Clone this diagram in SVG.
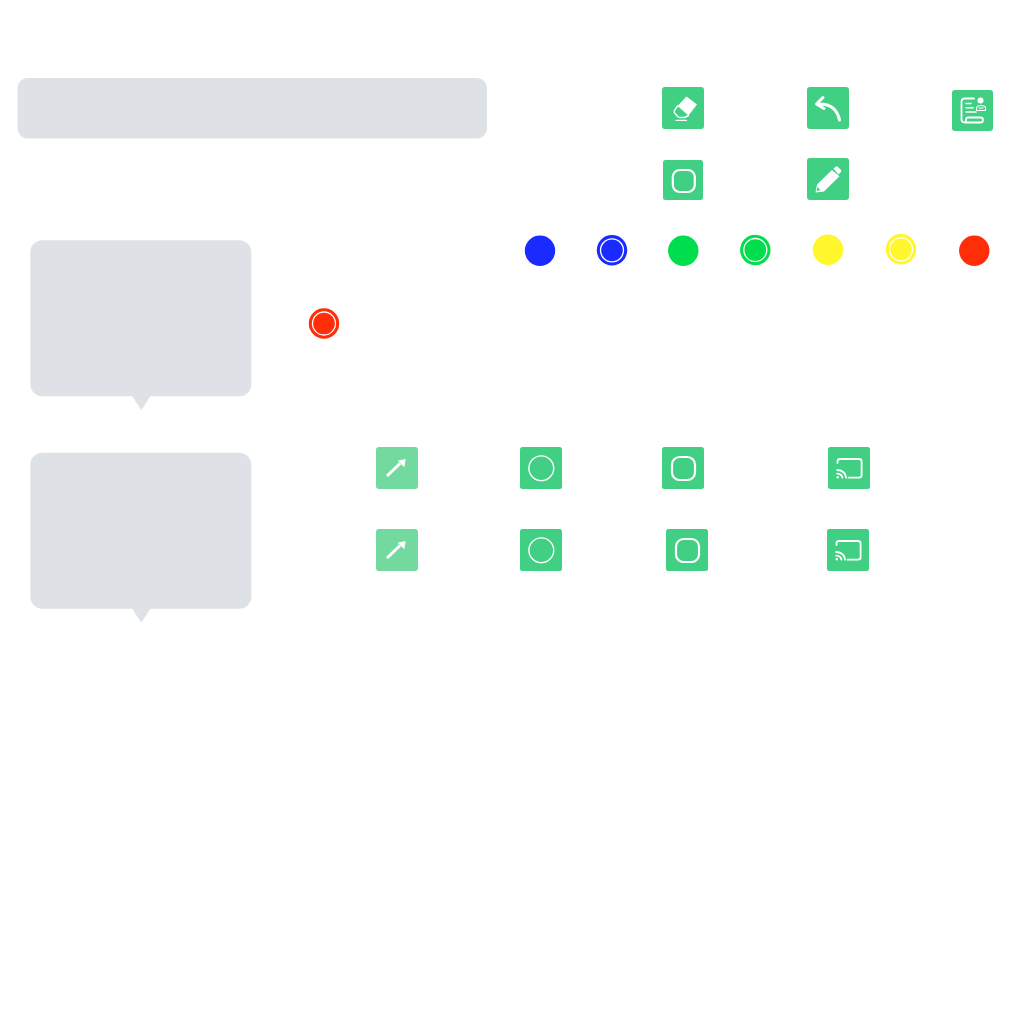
<svg xmlns="http://www.w3.org/2000/svg" width="1024" height="1024" viewBox="0 0 1024 1024">
<defs>
<style>
.bub{fill:#dee1e5}
.tile{fill:#41cf84}
.tile2{fill:#73da9f}
.ic{fill:none;stroke:#fff;stroke-width:2.200;stroke-linecap:round;stroke-linejoin:round}
.icf{fill:#fff}
.ring{fill:none;stroke:#fff;stroke-width:1.300}
.blue{fill:#1a2bff}.green{fill:#00de4d}.yellow{fill:#fff62b}.red{fill:#ff2e08}
</style>
<path id="bubble" d="M12 0H209A12 12 0 0 1 221 12V144A12 12 0 0 1 209 156H120L111 170L102 156H12A12 12 0 0 1 0 144V12A12 12 0 0 1 12 0Z"/>
<g id="cast">
<path class="ic" style="stroke-width:1.800" d="M9.500 16V14.500Q9.500 12 12 12H31Q33.600 12 33.600 14.500V28Q33.600 30.700 31 30.700H20.500"/>
<path class="ic" style="stroke-width:1.800" d="M9.200 23Q17.500 23.500 18 30.700M9.200 26.600Q14 27 14.400 30.700"/>
<circle class="icf" cx="9.800" cy="30.300" r="1.200"/>
</g>
<g id="arrow">
<path class="ic" style="stroke-width:3;stroke-linecap:butt" d="M11 29L24 16.500"/>
<path class="icf" d="M21.700 13.700L29.700 12L28.300 20.300Z"/>
</g>
</defs>
<rect width="1024" height="1024" fill="#fff"/>
<g id="connectors"/>
<g id="bar"><rect class="bub" x="17.500" y="78" width="469.500" height="60.500" rx="10"/></g>
<g id="bubble-1"><use href="#bubble" class="bub" x="30.300" y="240.300"/></g>
<g id="bubble-2"><use href="#bubble" class="bub" x="30.300" y="452.800"/></g>

<g id="eraser"><rect class="tile" x="662" y="87" width="42" height="42" rx="3"/>
<path class="icf" d="M686.500 96.500L697 104.500L688.500 115.500L677.500 106Z"/>
<path class="ic" style="stroke-width:1.400" d="M677.500 106L674.500 110.500Q673.500 112 675 113.500L678 116.800Q679 117.500 681 117.500H684.500L688.500 115.500"/>
<path class="ic" style="stroke-width:1.300" d="M676 120.300H686.500"/></g>

<g id="undo"><rect class="tile" x="807" y="87" width="42" height="42" rx="3"/>
<path class="ic" style="stroke-width:3" d="M817.500 104Q836 103 839.500 120M823 97.500L816.500 104L824 108.500"/></g>

<g id="report"><rect class="tile" x="952" y="90" width="41" height="41" rx="3"/>
<path class="ic" style="stroke-width:1.800" d="M974 98.500H965Q961.500 98.500 961.500 102V119Q961.500 122.500 965 122.500H980.500Q983 122.500 983 120Q983 117.500 980.500 117.500H968Q966 117.500 966 120Q966 122.500 965 122.500"/>
<path class="ic" style="stroke-width:1.600" d="M966 103.500H971M966 107.800H973M966 112H976"/>
<circle class="icf" cx="980.500" cy="100.500" r="3"/>
<path class="ic" style="stroke-width:1.100" d="M976.500 110.500V108Q977 105.500 981 105.500Q985.500 105.500 985.500 108V110.500ZM979 108H983"/></g>

<g id="rounded-1"><rect class="tile" x="663" y="160" width="40" height="40" rx="2.500"/>
<rect class="ic" x="672.800" y="170" width="22" height="22" rx="7"/></g>

<g id="pencil"><rect class="tile" x="807" y="158" width="42" height="42" rx="3"/>
<path class="icf" d="M833.500 168.500L836 166.500Q837 166 838 167L841 170Q841.500 171 841 171.800L838.500 174.500ZM832 170L839.500 176.300L824 191.500L815.500 192.500L817 184.500Z"/>
<path d="M817.500 187L820.500 190.300L816.500 191Z" fill="#41cf84"/></g>

<g id="dot-blue"><circle class="blue" cx="540" cy="250.800" r="15.200"/></g>
<g id="dot-blue-sel"><circle class="blue" cx="612" cy="250.300" r="15.200"/><circle class="ring" cx="612" cy="250.300" r="11.500"/></g>
<g id="dot-green"><circle class="green" cx="683.300" cy="250.800" r="15.200"/></g>
<g id="dot-green-sel"><circle class="green" cx="755.300" cy="250" r="15.200"/><circle class="ring" cx="755.300" cy="250" r="11.500"/></g>
<g id="dot-yellow"><circle class="yellow" cx="828" cy="249.800" r="15.200"/></g>
<g id="dot-yellow-sel"><circle class="yellow" cx="901" cy="249.300" r="15.200"/><circle class="ring" cx="901" cy="249.300" r="11.500"/></g>
<g id="dot-red"><circle class="red" cx="974.300" cy="250.800" r="15.200"/></g>
<g id="dot-red-sel"><circle class="red" cx="324" cy="323.500" r="15.200"/><circle class="ring" cx="324" cy="323.500" r="11.500"/></g>

<g id="arrow-1"><rect class="tile2" x="376" y="447" width="42" height="42" rx="3"/><use href="#arrow" x="376" y="447"/></g>
<g id="circle-1"><rect class="tile" x="520" y="447" width="42" height="42" rx="2.500"/><circle class="ic" style="stroke-width:1.400" cx="541.300" cy="468.300" r="12.400"/></g>
<g id="rounded-2"><rect class="tile" x="662" y="447" width="42" height="42" rx="2.500"/><rect class="ic" x="672" y="457" width="23" height="23" rx="7.500"/></g>
<g id="cast-1"><rect class="tile" x="828" y="447" width="42" height="42" rx="2.500"/><use href="#cast" x="828" y="447"/></g>

<g id="arrow-2"><rect class="tile2" x="376" y="529" width="42" height="42" rx="3"/><use href="#arrow" x="376" y="529"/></g>
<g id="circle-2"><rect class="tile" x="520" y="529" width="42" height="42" rx="2.500"/><circle class="ic" style="stroke-width:1.400" cx="541.300" cy="550.300" r="12.400"/></g>
<g id="rounded-3"><rect class="tile" x="666" y="529" width="42" height="42" rx="2.500"/><rect class="ic" x="676" y="539" width="23" height="23" rx="7.500"/></g>
<g id="cast-2"><rect class="tile" x="827" y="529" width="42" height="42" rx="2.500"/><use href="#cast" x="827" y="529"/></g>
</svg>
